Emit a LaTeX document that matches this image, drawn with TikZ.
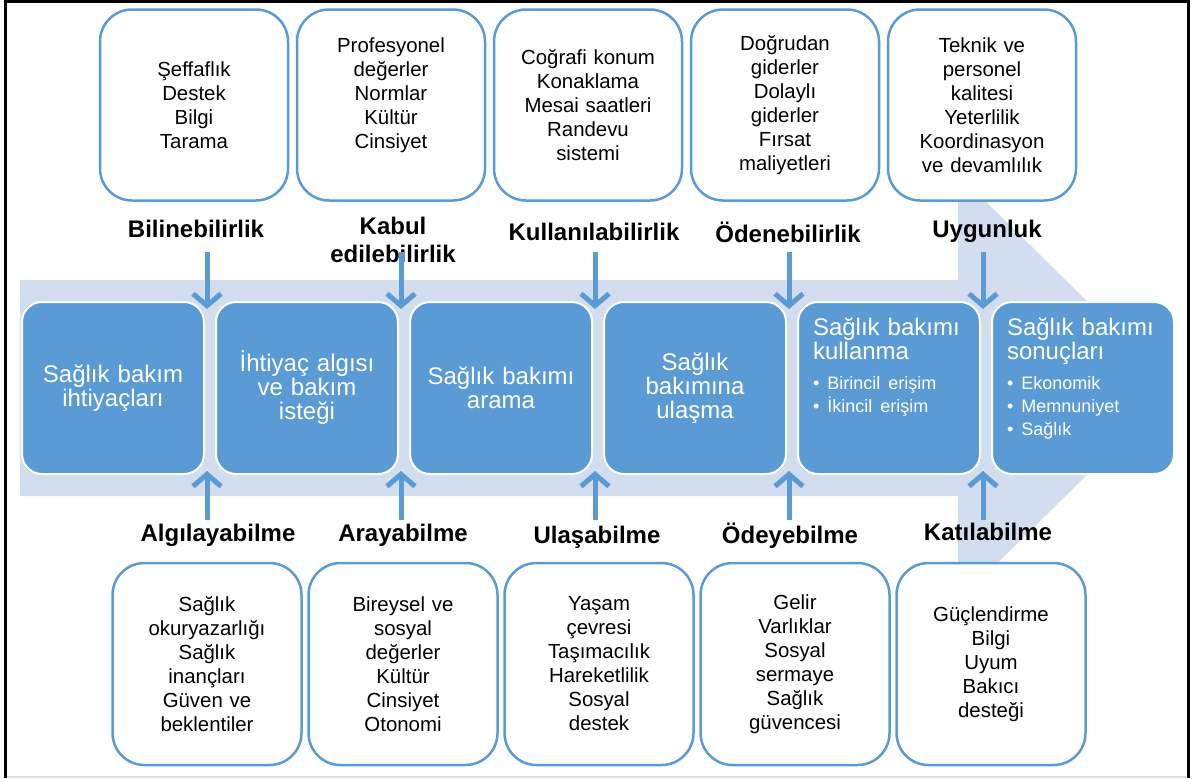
\documentclass[tikz,border=0pt]{standalone}
\usepackage{fontspec}
\setmainfont{Liberation Sans}
\usepackage{tikz}
\usetikzlibrary{arrows.meta,positioning,calc}
\definecolor{stageblue}{RGB}{91,155,213}
\definecolor{bandblue}{RGB}{210,222,239}

\begin{document}
\begin{tikzpicture}[x=0.5pt, y=-0.5pt,
    stage/.style={draw=white, line width=1pt, fill=stageblue, rounded corners=10pt, minimum width=91pt, minimum height=86pt, inner sep=3pt, text width=84pt, align=center, text=white, font=\fontsize{12}{12}\selectfont},
    factor/.style={draw=stageblue, line width=1.25pt, fill=white, rounded corners=16pt, minimum width=94pt, text width=86pt, align=center, font=\fontsize{10.2}{12}\selectfont},
    dimlabel/.style={font=\bfseries\fontsize{12}{14}\selectfont, align=center},
    flow/.style={draw=stageblue, line width=2.5pt, -{Straight Barb[length=6pt,width=14pt]}}]
  \useasboundingbox (0,0) rectangle (1197,778);
  % frame
  \draw[gray!25, line width=1pt] (5,777) -- (1189,777);
  \draw[line width=1.5pt] (5,778) -- (5,1.5) -- (1188.5,1.5) -- (1188.5,778);
  % big arrow behind the stages
  \fill[bandblue] (20,280) -- (958,280) -- (958,174) -- (1175,388) -- (958,602) -- (958,496) -- (20,496) -- cycle;

  % stages
  \node[stage] (ihtiyac) at (113,388) {Sağlık bakım\\ihtiyaçları};
  \node[stage, right=5pt of ihtiyac] (algi) {İhtiyaç algısı\\ve bakım\\isteği};
  \node[stage, right=5pt of algi] (arama) {Sağlık bakımı\\arama};
  \node[stage, right=5pt of arama] (ulasma) {Sağlık\\bakımına\\ulaşma};
  \node[stage, right=5pt of ulasma] (kullanma) {\parbox[c][80pt][t]{84pt}{\raggedright\leftskip=4pt\vspace*{5pt}Sağlık bakımı\\kullanma\par\vspace{3.5pt}{\fontsize{9}{11.5}\selectfont\mbox{\textbullet~Birincil erişim}\\\mbox{\textbullet~İkincil erişim}\par}}};
  \node[stage, right=5pt of kullanma] (sonuc) {\parbox[c][80pt][t]{84pt}{\raggedright\leftskip=4pt\vspace*{5pt}Sağlık bakımı\\sonuçları\par\vspace{3.5pt}{\fontsize{9}{11.5}\selectfont\mbox{\textbullet~Ekonomik}\\\mbox{\textbullet~Memnuniyet}\\\mbox{\textbullet~Sağlık}\par}}};

  % supply side
  \node[factor, minimum height=95.5pt] (seffaf) at (194,105) {Şeffaflık\\Destek\\Bilgi\\Tarama};
  \node[factor, minimum height=95.5pt, right=3.25pt of seffaf] (profes) {Profesyonel\\değerler\\Normlar\\Kültür\\Cinsiyet\\\mbox{}};
  \node[factor, minimum height=95.5pt, right=3.25pt of profes] (cograf) {Coğrafi konum\\Konaklama\\Mesai saatleri\\Randevu\\sistemi};
  \node[factor, minimum height=95.5pt, right=3.25pt of cograf] (gider) {Doğrudan\\giderler\\Dolaylı\\giderler\\Fırsat\\maliyetleri};
  \node[factor, minimum height=95.5pt, right=3.25pt of gider] (teknik) {Teknik ve\\personel\\kalitesi\\Yeterlilik\\Koordinasyon\\ve devamlılık};

  \node[dimlabel, anchor=base] (bilin) at (196,237) {Bilinebilirlik};
  \node[dimlabel] (kabul) at (393,240) {Kabul\\edilebilirlik};
  \node[dimlabel, anchor=base] (kullan) at (594,240) {Kullanılabilirlik};
  \node[dimlabel, anchor=base] (oden) at (788,242) {Ödenebilirlik};
  \node[dimlabel, anchor=base] (uygun) at (987,237) {Uygunluk};

  % demand side
  \node[factor, minimum width=94.5pt, minimum height=101pt] (okur) at (207,664) {Sağlık\\okuryazarlığı\\Sağlık\\inançları\\Güven ve\\beklentiler};
  \node[factor, minimum width=94.5pt, minimum height=101pt, right=2.25pt of okur] (birey) {Bireysel ve\\sosyal\\değerler\\Kültür\\Cinsiyet\\Otonomi};
  \node[factor, minimum width=94.5pt, minimum height=101pt, right=2.25pt of birey] (yasam) {Yaşam\\çevresi\\Taşımacılık\\Hareketlilik\\Sosyal\\destek};
  \node[factor, minimum width=94.5pt, minimum height=101pt, right=2.25pt of yasam] (gelir) {Gelir\\Varlıklar\\Sosyal\\sermaye\\Sağlık\\güvencesi};
  \node[factor, minimum width=94.5pt, minimum height=101pt, right=2.25pt of gelir] (guclen) {Güçlendirme\\Bilgi\\Uyum\\Bakıcı\\desteği};

  \node[dimlabel, anchor=base] (algila) at (218,541) {Algılayabilme};
  \node[dimlabel, anchor=base] (araya) at (403,541) {Arayabilme};
  \node[dimlabel, anchor=base] (ulas) at (597,543) {Ulaşabilme};
  \node[dimlabel, anchor=base] (odey) at (790,543) {Ödeyebilme};
  \node[dimlabel, anchor=base] (katil) at (988,540) {Katılabilme};

  % arrows into the gaps between stages
  \coordinate (g1) at ($(ihtiyac.east)!.5!(algi.west)$);
  \coordinate (g2) at ($(algi.east)!.5!(arama.west)$);
  \coordinate (g3) at ($(arama.east)!.5!(ulasma.west)$);
  \coordinate (g4) at ($(ulasma.east)!.5!(kullanma.west)$);
  \coordinate (g5) at ($(kullanma.east)!.5!(sonuc.west)$);
  \draw[flow] ([xshift=-1.5pt,yshift=68pt]g1) -- ([xshift=-1.5pt,yshift=39.5pt]g1);
  \draw[flow] ([xshift=-1.5pt,yshift=68pt]g2) -- ([xshift=-1.5pt,yshift=39.5pt]g2);
  \draw[flow] ([xshift=-1.5pt,yshift=68pt]g3) -- ([xshift=-1.5pt,yshift=39.5pt]g3);
  \draw[flow] ([xshift=-1.5pt,yshift=68pt]g4) -- ([xshift=-1.5pt,yshift=39.5pt]g4);
  \draw[flow] ([xshift=-1.5pt,yshift=68pt]g5) -- ([xshift=-1.5pt,yshift=39.5pt]g5);
  \draw[flow] ([xshift=-1.5pt,yshift=-66pt]g1) -- ([xshift=-1.5pt,yshift=-41.5pt]g1);
  \draw[flow] ([xshift=-1.5pt,yshift=-66pt]g2) -- ([xshift=-1.5pt,yshift=-41.5pt]g2);
  \draw[flow] ([xshift=-1.5pt,yshift=-66pt]g3) -- ([xshift=-1.5pt,yshift=-41.5pt]g3);
  \draw[flow] ([xshift=-1.5pt,yshift=-66pt]g4) -- ([xshift=-1.5pt,yshift=-41.5pt]g4);
  \draw[flow] ([xshift=-1.5pt,yshift=-66pt]g5) -- ([xshift=-1.5pt,yshift=-41.5pt]g5);
\end{tikzpicture}
\end{document}
